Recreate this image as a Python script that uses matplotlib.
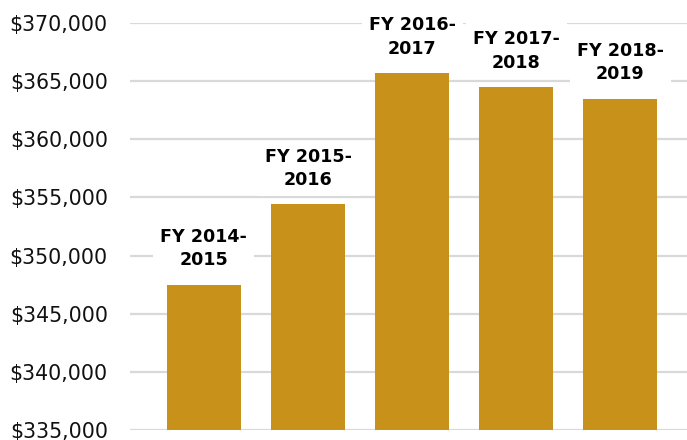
import matplotlib.pyplot as plt
from matplotlib.ticker import FuncFormatter

# data
years = ['FY 2014-\n2015', 'FY 2015-\n2016', 'FY 2016-\n2017', 'FY 2017-\n2018', 'FY 2018-\n2019']
valores = [347500, 354400, 365700, 364500, 363500]
yticks = [335000, 340000, 345000, 350000, 355000, 360000, 365000, 370000]

fig = plt.figure(figsize=(6.87, 4.4), dpi=100)
ax = fig.add_axes([130 / 687, 10 / 440, 1 - 130 / 687, 407 / 440])

x = list(range(len(valores)))
ax.bar(x, valores, width=0.71, color='#C8921A', zorder=2)

ax.set_ylim(335000, 370000)
ax.set_xlim(-0.71, 4.64)
ax.set_yticks(yticks)
ax.yaxis.set_major_formatter(FuncFormatter(lambda v, p: '${:,.0f}'.format(v)))
ax.grid(axis='y', color='#D9D9D9', linewidth=1.6, zorder=0)
ax.set_xticks([])
ax.tick_params(axis='y', length=0, pad=16, labelsize=14.8, labelcolor='#111111')
for s in ax.spines.values():
    s.set_visible(False)

# etiquetas em cima das barras
for xi, v, lab in zip(x, valores, years):
    ax.annotate(lab, (xi, v), xytext=(0, 11), textcoords='offset points',
                ha='center', va='bottom', fontsize=12.6, fontweight='bold',
                linespacing=1.4, zorder=3,
                bbox=dict(facecolor='white', edgecolor='none', pad=5))

fig.savefig('out.png', dpi=100)
